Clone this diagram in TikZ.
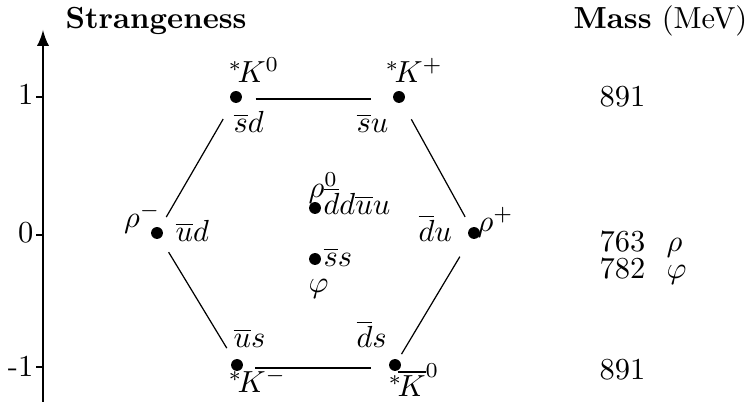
\documentclass[tikz,border=0pt]{standalone}
\usepackage{amsmath}
\usepackage{amssymb}

\begin{document}
\begin{tikzpicture}[
      x=0.328pt, y=-0.328pt,
      punto/.style={circle, fill, inner sep=0pt, minimum size=3.9pt},
      lado/.style={line width=0.4pt},
      base/.style={line width=0.8pt},
      etiqueta/.style={anchor=base west, inner sep=0pt},
      marca/.style={anchor=base east, inner sep=0pt},
      eje/.style={->, >=latex, line width=0.8pt}
    ]
    \useasboundingbox (0,0) rectangle (753,402);

    % eje de extrañeza
    \coordinate (ejeabajo) at (43,402);
    \coordinate (ejearriba) at (43,30);
    \draw[eje] (ejeabajo) -- (ejearriba);
    \foreach \y/\b/\t in {97/105/1, 235/243/0, 367/377/-1} {
      \draw[line width=0.5pt] (36,\y) -- (43,\y);
      \node[marca] at (34,\b) {\t};
    }
    \node[etiqueta] (titulo) at (65,29) {\textbf{Strangeness}};
    \node[etiqueta] (masa) at (573,29) {\textbf{Mass} (MeV)};

    % mesones
    \node[punto] (Kc)       at (236,97)  {};
    \node[punto] (Kmas)     at (399,97)  {};
    \node[punto] (rhomenos) at (157,233) {};
    \node[punto] (rhomas)   at (474,233) {};
    \node[punto] (Kmenos)   at (237,365) {};
    \node[punto] (Kbar)     at (395,365) {};
    \node[punto] (rhocero)  at (315,208) {};
    \node[punto] (phi)      at (315,259) {};

    \draw[base, shorten <=4.3pt, shorten >=6.9pt] ([yshift=-0.7pt]Kc.east) -- ([yshift=-0.7pt]Kmas.west);
    \draw[base, shorten <=3.9pt, shorten >=5.6pt] ([yshift=-1pt]Kmenos.east) -- ([yshift=-1pt]Kbar.west);
    \draw[lado, shorten <=6.2pt, shorten >=3.9pt] (Kc) -- (rhomenos);
    \draw[lado, shorten <=6.2pt, shorten >=3.9pt] (Kmas) -- (rhomas);
    \draw[lado, shorten <=5.2pt, shorten >=4.3pt] (rhomenos) -- (Kmenos);
    \draw[lado, shorten <=6.9pt, shorten >=2pt] (rhomas) -- (Kbar);

    \node[etiqueta] at (228,83)  {${}^*\!K^0$};
    \node[etiqueta] at (233,133) {$\overline{s}d$};
    \node[etiqueta] at (385,83)  {${}^*\!K^+$};
    \node[etiqueta] at (356,133) {$\overline{s}u$};
    \node[marca]    at (161,228) {$\rho^-$};
    \node[etiqueta] at (175,242) {$\overline{u}d$};
    \node[etiqueta] at (477,232) {$\rho^+$};
    \node[etiqueta] at (418,242) {$\overline{d}u$};
    \node[etiqueta] at (308,198) {$\rho^0$};
    \node[etiqueta] at (323,215) {$\overline{d}d\overline{u}u$};
    \node[etiqueta] at (323,267) {$\overline{s}s$};
    \node[etiqueta] at (308,293) {$\varphi$};
    \node[etiqueta] at (233,348) {$\overline{u}s$};
    \node[etiqueta] at (228,393) {${}^*\!K^-$};
    \node[etiqueta] at (356,348) {$\overline{d}s$};
    \node[etiqueta] at (388,397) {${}^*\!\overline{K}^0$};

    % masas
    \node[etiqueta] at (599,107) {891};
    \node[etiqueta] at (599,252) {763\hspace{7pt}$\rho$};
    \node[etiqueta] at (599,279) {782\hspace{7pt}$\varphi$};
    \node[etiqueta] at (599,380) {891};
  \end{tikzpicture}
\end{document}
